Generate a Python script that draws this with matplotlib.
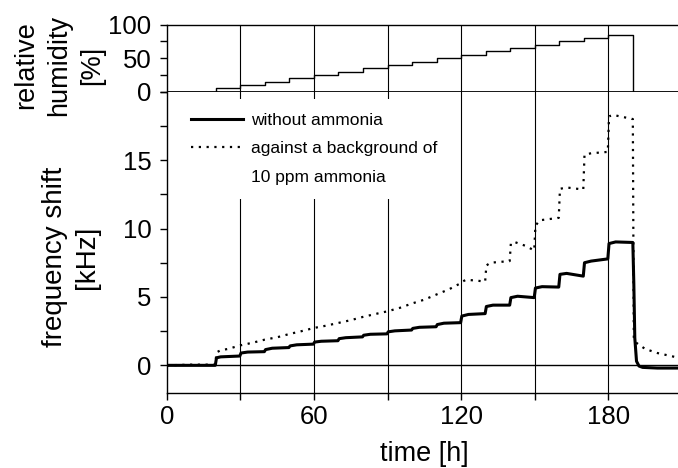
import matplotlib
matplotlib.use("Agg")
import matplotlib.pyplot as plt
from matplotlib.ticker import MultipleLocator
from matplotlib.lines import Line2D

plt.rcParams['font.family'] = ['Liberation Sans', 'DejaVu Sans']

# --- data ---
rh_time = [0, 20, 30, 40, 50, 60, 70, 80, 90, 100, 110, 120, 130, 140, 150, 160, 170, 180, 190, 210]
rh_value = [0, 5, 10, 15, 20, 25, 30, 35, 40, 45, 50, 55, 60, 65, 70, 75, 80, 85, 0, 0]

t_solid = [0, 10, 19.8, 20.3, 22, 29.8, 30.3, 33, 39.8, 40.3, 43, 49.8, 50.3, 53, 59.8,
           60.3, 63, 69.8, 70.3, 73, 79.8, 80.3, 83, 89.8, 90.3, 93, 99.8, 100.3, 103, 109.8,
           110.3, 113, 119.8, 120.3, 123, 129.8, 130.3, 133, 139.8, 140.3, 143, 149.8,
           150.3, 153, 159.8, 160.3, 163, 169.8, 170.3, 173, 179.8, 180.3, 183, 190.0,
           190.4, 190.8, 191.5, 192.5, 194, 200, 210]
f_solid = [0.0, 0.0, 0.0, 0.55, 0.62, 0.68, 0.9, 0.97, 1.0, 1.15, 1.25, 1.3, 1.42, 1.5, 1.55,
           1.7, 1.76, 1.8, 1.95, 2.02, 2.08, 2.2, 2.27, 2.3, 2.45, 2.52, 2.58, 2.7, 2.78, 2.82,
           2.98, 3.08, 3.12, 3.6, 3.72, 3.78, 4.3, 4.4, 4.4, 4.95, 5.05, 4.95,
           5.65, 5.75, 5.72, 6.65, 6.72, 6.52, 7.5, 7.62, 7.78, 8.9, 9.02, 8.98,
           6.0, 2.0, 0.3, -0.05, -0.15, -0.2, -0.2]

t_dotted = [0, 10, 19.8, 20.3, 22, 25, 30, 35, 40, 45, 50, 55, 60, 65, 70, 75, 80, 85, 90,
            95, 100, 105, 110, 115, 119.8, 120.3, 122, 126, 129.8, 130.3, 132, 139.8,
            140.3, 142, 146, 149.8, 150.3, 152, 159.8, 160.3, 163, 169.8, 170.3, 173, 179.8,
            180.3, 182, 190.0, 190.4, 191, 195, 200, 210]
f_dotted = [0.0, 0.05, 0.05, 0.95, 1.1, 1.2, 1.46, 1.65, 1.88, 2.05, 2.29, 2.5, 2.73, 2.9, 3.1,
            3.3, 3.54, 3.75, 3.95, 4.2, 4.52, 4.8, 5.18, 5.55, 6.0, 6.1, 6.25, 6.2, 6.12,
            7.3, 7.5, 7.62, 8.95, 9.0, 8.75, 8.4, 10.2, 10.6, 10.78, 12.9, 13.0, 12.85,
            15.4, 15.5, 15.6, 18.2, 18.3, 18.0, 2.0, 1.7, 1.2, 0.9, 0.5]

vlines = [30, 60, 90, 120, 150, 180]
label_solid = "without ammonia"
label_dotted = "against a background of"
label_dotted2 = "10 ppm ammonia"

# --- figure ---
W, H = 678, 468
fig = plt.figure(figsize=(W / 100, H / 100), dpi=100)

left = 166.7 / W
xmax = 210
px_per_h = 73.6 / 30
width = xmax * px_per_h / W

ax_top = fig.add_axes([left, (H - 91.7) / H, width, (91.7 - 24.7) / H])
ax = fig.add_axes([left, (H - 392.7) / H, width, (392.7 - 91.7) / H], sharex=ax_top)

for a in (ax_top, ax):
    a.spines['right'].set_visible(False)
    for s in a.spines.values():
        s.set_linewidth(1.0)
    a.tick_params(direction='out', length=5, width=1.0, labelsize=18.5, pad=6)
    a.tick_params(which='minor', direction='out', length=5, width=1.0)
    for v in vlines:
        a.axvline(v, color='black', lw=0.8, zorder=1)

# top panel
ax_top.step(rh_time, rh_value, where='post', color='black', lw=1.0)
ax_top.axhline(0, color='black', lw=2.0)
ax_top.set_ylim(0, 100)
ax_top.set_yticks([0, 50, 100])
ax_top.yaxis.set_minor_locator(MultipleLocator(25))
ax_top.tick_params(axis='x', which='both', bottom=False, labelbottom=False)
ax_top.spines['bottom'].set_visible(False)

# bottom panel
ax.axhline(0, color='black', lw=1.0, zorder=1)
l1, = ax.plot(t_solid, f_solid, color='black', lw=2.2, zorder=3)
l2, = ax.plot(t_dotted, f_dotted, color='black', lw=1.6, linestyle=(0, (1, 2.5)), zorder=3)
blank = Line2D([], [], linestyle='none')
ax.set_xlim(0, xmax)
ax.set_ylim(-2, 20)
ax.set_xticks([0, 60, 120, 180])
ax.xaxis.set_minor_locator(MultipleLocator(30))
ax.tick_params(axis='x', pad=4)
ax.set_yticks([0, 5, 10, 15])
ax.yaxis.set_minor_locator(MultipleLocator(2.5))
ax.spines['top'].set_visible(False)
ax.set_xlabel("time [h]", fontsize=19.5, labelpad=8.5)

leg = ax.legend([l1, l2, blank], [label_solid, label_dotted, label_dotted2],
                loc='upper left', bbox_to_anchor=(0.02, 0.975), frameon=True,
                facecolor='white', edgecolor='none', framealpha=1.0, fancybox=False,
                fontsize=12.5, handlelength=3.0, handletextpad=0.45, labelspacing=0.75,
                borderaxespad=0.0, borderpad=0.8)
leg.set_zorder(2)

fig.text(59 / W, 1 - 65 / H, "relative\nhumidity\n[%]", rotation=90, fontsize=19.5,
         ha='center', va='center', multialignment='center', linespacing=1.35)
fig.text(71 / W, 1 - 257 / H, "frequency shift\n[kHz]", rotation=90, fontsize=20,
         ha='center', va='center', multialignment='center', linespacing=1.35)

fig.savefig("out.png", dpi=100)
